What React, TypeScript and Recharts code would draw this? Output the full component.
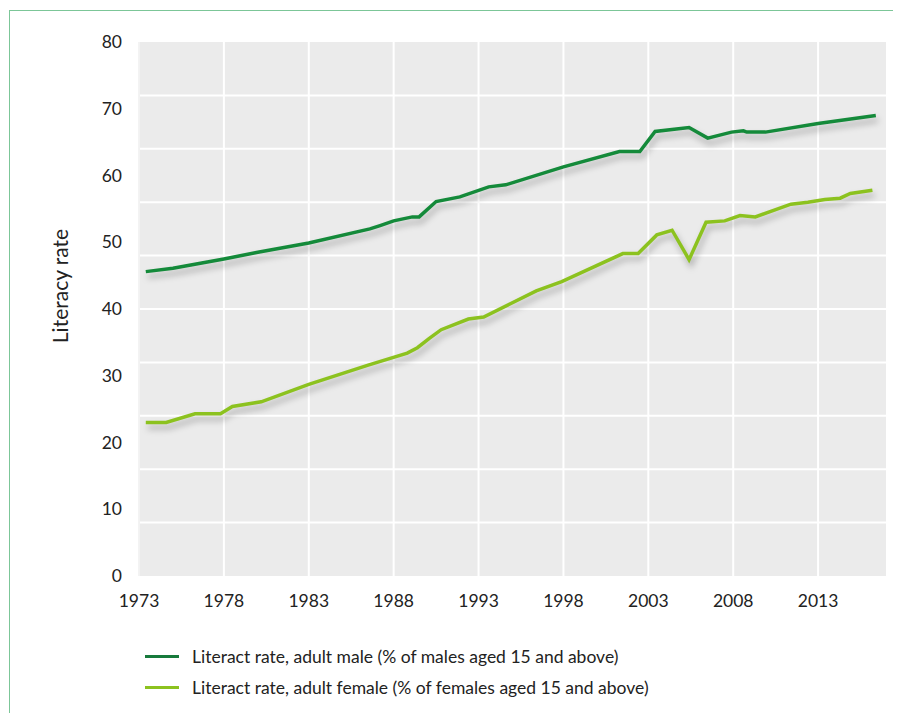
import React from 'react';
import { LineChart, Line, XAxis, YAxis, CartesianGrid } from 'recharts';

const maleYears = [1973.4, 1975, 1976.7, 1978, 1980, 1983, 1986.6, 1987.2, 1988, 1989.1, 1989.5, 1990.5, 1991.9, 1993.6, 1994.6, 1998, 2001.3, 2002.5, 2003.4, 2005.4, 2006.5, 2007.9, 2008.6, 2008.8, 2009.9, 2013, 2016.4];
const maleRates = [45.6, 46.1, 46.9, 47.5, 48.5, 49.9, 52.0, 52.5, 53.2, 53.8, 53.8, 56.1, 56.8, 58.3, 58.6, 61.3, 63.6, 63.6, 66.6, 67.2, 65.6, 66.5, 66.7, 66.5, 66.5, 67.8, 69.0];

const femaleYears = [1973.4, 1974.6, 1976.3, 1977.8, 1978.5, 1980.2, 1983, 1986.5, 1988.8, 1989.4, 1990.1, 1990.8, 1992.4, 1993.3, 1996.4, 1997.9, 2001.5, 2002.4, 2003.5, 2004.4, 2005.4, 2006.4, 2007.5, 2008.4, 2009.3, 2011.4, 2012.4, 2013.4, 2014.3, 2014.9, 2016.2];
const femaleRates = [23.0, 23.0, 24.3, 24.3, 25.4, 26.1, 28.7, 31.6, 33.4, 34.2, 35.6, 36.9, 38.5, 38.8, 42.7, 44.1, 48.3, 48.3, 51.1, 51.8, 47.4, 53.0, 53.2, 54.0, 53.8, 55.7, 56.0, 56.4, 56.6, 57.3, 57.8];

const xTicks = [1973, 1978, 1983, 1988, 1993, 1998, 2003, 2008, 2013];
const yTicks = [0, 10, 20, 30, 40, 50, 60, 70, 80];
const gridRows = [8, 16, 24, 32, 40, 48, 56, 64, 72];
const gridCols = [1973, 1978, 1983, 1988, 1993, 1998, 2003, 2008, 2013];

const maleLabel = 'Literact rate, adult male (% of males aged 15 and above)';
const femaleLabel = 'Literact rate, adult female (% of females aged 15 and above)';
const yTitle = 'Literacy rate';

const maleColor = '#148a3a';
const maleLegendColor = '#177a3c';
const femaleColor = '#8cc21f';

const maleData = maleYears.map((year, i) => ({ year, rate: maleRates[i] }));
const femaleData = femaleYears.map((year, i) => ({ year, rate: femaleRates[i] }));

const FONT = 'Lato, "Open Sans", sans-serif';

export default function App() {
  return (
    <div
      style={{
        position: 'relative',
        width: 892,
        height: 703,
        marginLeft: 1,
        marginTop: 2,
        borderTop: '1px solid #7cc698',
        borderLeft: '1px solid #7cc698',
        fontFamily: FONT,
        background: '#fff',
      }}
    >
      <style>{`html, body { overflow: hidden; } g.recharts-line { filter: drop-shadow(2px 5px 3px rgba(0,0,0,0.28)); }`}</style>
      <LineChart
        width={880}
        height={620}
        margin={{ top: 31, right: 4, bottom: 15, left: 69 }}
      >
        <CartesianGrid
          fill="#ebebeb"
          fillOpacity={1}
          stroke="#ffffff"
          strokeWidth={2}
          horizontalValues={gridRows}
          verticalValues={gridCols}
        />
        <XAxis
          type="number"
          dataKey="year"
          domain={[1973, 2017]}
          ticks={xTicks}
          allowDataOverflow
          axisLine={false}
          tickLine={false}
          tickSize={0}
          tickMargin={19}
          height={40}
          tick={{ fill: '#222', fontSize: 17.5, fontFamily: FONT }}
        />
        <YAxis
          type="number"
          domain={[0, 80]}
          ticks={yTicks}
          width={60}
          axisLine={{ stroke: '#e6e6e6', strokeWidth: 1 }}
          tickLine={false}
          tickSize={0}
          tickMargin={17}
          tick={{ fill: '#222', fontSize: 17.5, fontFamily: FONT }}
          label={(props: any) => {
            const vb = props.viewBox || { x: 69, y: 31, width: 60, height: 534 };
            const cx = vb.x - 20;
            const cy = vb.y + vb.height / 2 - 23;
            return (
              <text
                x={cx}
                y={cy}
                transform={`rotate(-90 ${cx} ${cy})`}
                textAnchor="middle"
                dominantBaseline="central"
                fill="#222"
                fontSize={21}
                fontFamily={FONT}
              >
                {yTitle}
              </text>
            );
          }}
        />
        <Line
          className="lit-line"
          data={femaleData}
          dataKey="rate"
          type="linear"
          stroke={femaleColor}
          strokeWidth={3.5}
          dot={false}
          activeDot={false}
          isAnimationActive={false}
        />
        <Line
          className="lit-line"
          data={maleData}
          dataKey="rate"
          type="linear"
          stroke={maleColor}
          strokeWidth={3.5}
          dot={false}
          activeDot={false}
          isAnimationActive={false}
        />
      </LineChart>
      <div style={{ position: 'absolute', left: 135, top: 630 }}>
        {[
          { label: maleLabel, color: maleLegendColor },
          { label: femaleLabel, color: femaleColor },
        ].map((item) => (
          <div key={item.label} style={{ display: 'flex', alignItems: 'center', height: 31 }}>
            <span style={{ display: 'inline-block', width: 34, height: 3, background: item.color, marginRight: 13 }} />
            <span style={{ fontSize: 17.5, color: '#222', whiteSpace: 'nowrap' }}>{item.label}</span>
          </div>
        ))}
      </div>
    </div>
  );
}
